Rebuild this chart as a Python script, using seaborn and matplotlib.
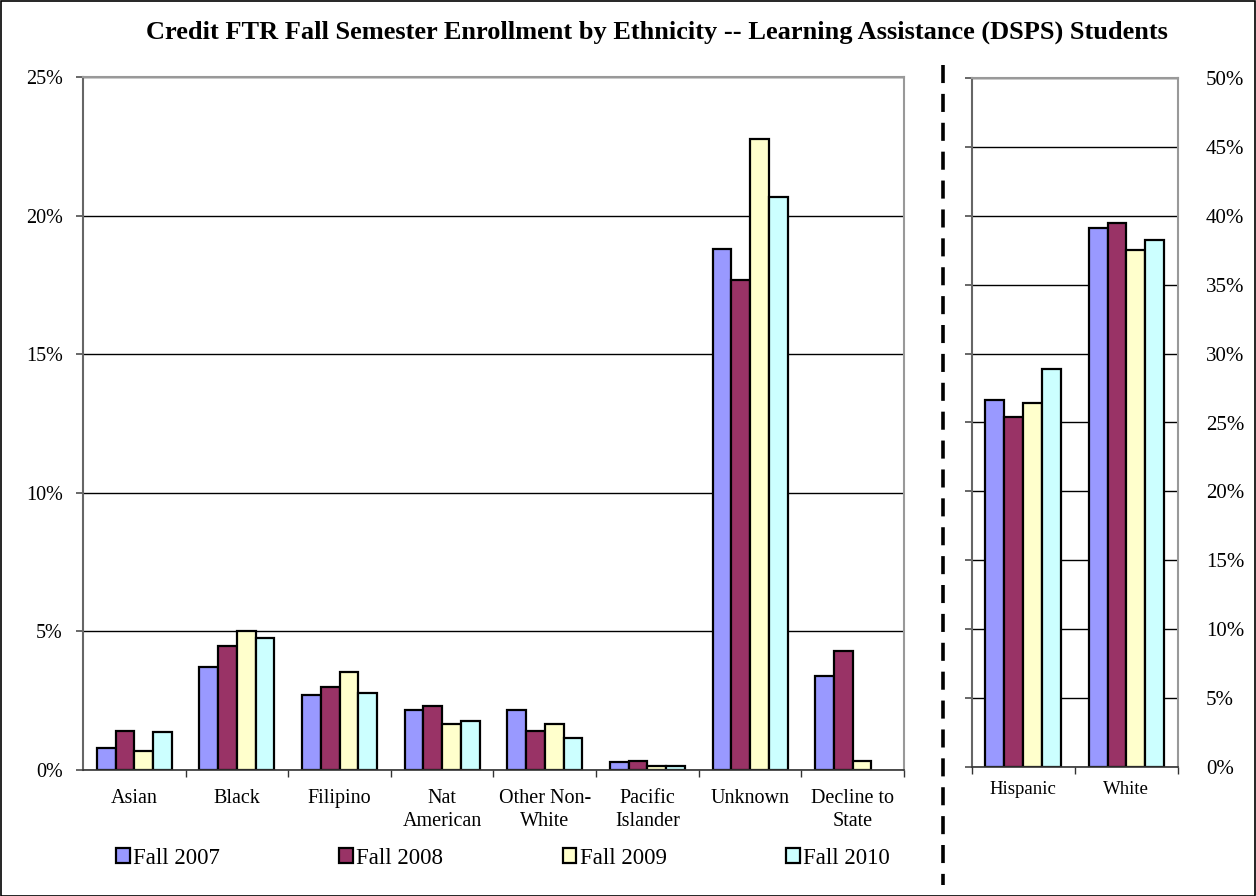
import numpy as np
import pandas as pd
import matplotlib
matplotlib.use("Agg")
import matplotlib.pyplot as plt
import seaborn as sns
from matplotlib.lines import Line2D
from matplotlib.patches import Rectangle
from matplotlib.ticker import PercentFormatter, MultipleLocator, FixedLocator

# ---------------- data ----------------
terms = ["Fall 2007", "Fall 2008", "Fall 2009", "Fall 2010"]
left_categories = ["Asian", "Black", "Filipino", "Nat\nAmerican", "Other Non-\nWhite",
                   "Pacific\nIslander", "Unknown", "Decline to\nState"]
fall_2007_left = [0.81, 3.71, 2.70, 2.17, 2.17, 0.29, 18.79, 3.38]
fall_2008_left = [1.40, 4.47, 3.01, 2.31, 1.40, 0.31, 17.68, 4.31]
fall_2009_left = [0.70, 5.03, 3.52, 1.65, 1.65, 0.14, 22.75, 0.31]
fall_2010_left = [1.36, 4.77, 2.77, 1.75, 1.16, 0.14, 20.68, np.nan]

right_categories = ["Hispanic", "White"]
fall_2007_right = [26.6, 39.1]
fall_2008_right = [25.4, 39.45]
fall_2009_right = [26.45, 37.5]
fall_2010_right = [28.85, 38.25]

colors = ["#9999FF", "#993366", "#FFFFCC", "#CCFFFF"]
title = "Credit FTR Fall Semester Enrollment by Ethnicity -- Learning Assistance (DSPS) Students"

def long_form(categories, series):
    rows = []
    for term, vals in zip(terms, series):
        for c, v in zip(categories, vals):
            rows.append({"Ethnicity": c, "Term": term, "Pct": v})
    return pd.DataFrame(rows)

df_left = long_form(left_categories, [fall_2007_left, fall_2008_left, fall_2009_left, fall_2010_left])
df_right = long_form(right_categories, [fall_2007_right, fall_2008_right, fall_2009_right, fall_2010_right])

# ---------------- style ----------------
sns.set_theme(style="white")
plt.rcParams["font.family"] = ["Liberation Serif", "DejaVu Serif"]
plt.rcParams["text.color"] = "black"
plt.rcParams["xtick.color"] = "black"
plt.rcParams["ytick.color"] = "black"
plt.rcParams["axes.labelcolor"] = "black"

W, H = 1256, 896
fig = plt.figure(figsize=(W / 100, H / 100), dpi=100)

def frac(x0, y0, x1, y1):
    return [x0 / W, 1 - y1 / H, (x1 - x0) / W, (y1 - y0) / H]

ax = fig.add_axes(frac(83, 77, 904, 770))
ax2 = fig.add_axes(frac(971.5, 78, 1178, 767))

palette = dict(zip(terms, colors))

sns.barplot(data=df_left, x="Ethnicity", y="Pct", hue="Term", hue_order=terms,
            palette=palette, edgecolor="black", linewidth=1.6, width=0.73,
            saturation=1, ax=ax, legend=True, errorbar=None)
handles, labels = ax.get_legend_handles_labels()
ax.get_legend().remove()

sns.barplot(data=df_right, x="Ethnicity", y="Pct", hue="Term", hue_order=terms,
            palette=palette, edgecolor="black", linewidth=1.6, width=0.73,
            saturation=1, ax=ax2, legend=False, errorbar=None)

# ---------------- left axes ----------------
ax.set_xlim(-0.5, len(left_categories) - 0.5)
ax.set_ylim(0, 25)
ax.yaxis.set_major_locator(MultipleLocator(5))
ax.yaxis.set_major_formatter(PercentFormatter(decimals=0))
ax.set_xlabel("")
ax.set_ylabel("")
ax.grid(axis="y", color="black", linewidth=1.0)
ax.set_axisbelow(True)
ax.xaxis.set_minor_locator(FixedLocator(np.arange(0.5, len(left_categories) - 0.5 + 1e-9, 1.0)))
ax.tick_params(axis="x", which="major", length=0, pad=14, labelsize=14.5, labelcolor="black")
ax.tick_params(axis="x", which="minor", length=5, direction="out", color="#333333", bottom=True)
ax.tick_params(axis="y", which="major", length=5, direction="out", left=True, pad=9.5,
               labelsize=14.5, labelcolor="black", color="#555555")
for lab in ax.get_xticklabels():
    lab.set_linespacing(1.25)
for s in ["top", "right"]:
    ax.spines[s].set_color("#999999")
    ax.spines[s].set_linewidth(1.5)
ax.spines["left"].set_color("#666666")
ax.spines["left"].set_linewidth(1.5)
ax.spines["bottom"].set_color("#333333")
ax.spines["bottom"].set_linewidth(1.2)

# ---------------- right axes ----------------
ax2.set_xlim(-0.5, len(right_categories) - 0.5)
ax2.set_ylim(0, 50)
ax2.yaxis.set_major_locator(MultipleLocator(5))
ax2.yaxis.set_major_formatter(PercentFormatter(decimals=0))
ax2.set_xlabel("")
ax2.set_ylabel("")
ax2.grid(axis="y", color="black", linewidth=1.0)
ax2.set_axisbelow(True)
ax2.xaxis.set_minor_locator(FixedLocator([-0.5, 0.5, 1.5]))
ax2.tick_params(axis="x", which="major", length=0, pad=10, labelsize=13.5, labelcolor="black")
ax2.tick_params(axis="x", which="minor", length=5, direction="out", color="#333333", bottom=True)
ax2.tick_params(axis="y", which="major", left=True, labelleft=False, right=False, labelright=True,
                length=5, direction="out", pad=15, labelsize=15, labelcolor="black", color="#555555")
for s in ["top", "right"]:
    ax2.spines[s].set_color("#999999")
    ax2.spines[s].set_linewidth(1.5)
ax2.spines["left"].set_color("#666666")
ax2.spines["left"].set_linewidth(1.5)
ax2.spines["bottom"].set_color("#333333")
ax2.spines["bottom"].set_linewidth(1.2)

# ---------------- title, separators, border, legend ----------------
fig.text(657 / W, 1 - 32 / H, title, ha="center", va="center",
         fontsize=19, fontweight="bold", color="black")

fig.add_artist(Line2D([943 / W, 943 / W], [1 - 65 / H, 1 - 885 / H], color="black",
                      linewidth=2.6, linestyle=(0, (5, 3)), transform=fig.transFigure))

fig.add_artist(Rectangle((0.5 / W, 0.5 / H), 1 - 1.5 / W, 1 - 1.5 / H, fill=False,
                         edgecolor="black", linewidth=1.2, transform=fig.transFigure))

leg = fig.legend(handles, labels, loc="center", bbox_to_anchor=(503 / W, 1 - 858 / H),
                 ncol=4, frameon=False, fontsize=16.5, handlelength=0.6, handleheight=0.6,
                 handletextpad=0.15, columnspacing=5.2, borderaxespad=0)
for h in leg.legend_handles:
    h.set_edgecolor("black")
    h.set_linewidth(1.6)
for t in leg.get_texts():
    t.set_color("black")

fig.savefig("out.png", dpi=100)
